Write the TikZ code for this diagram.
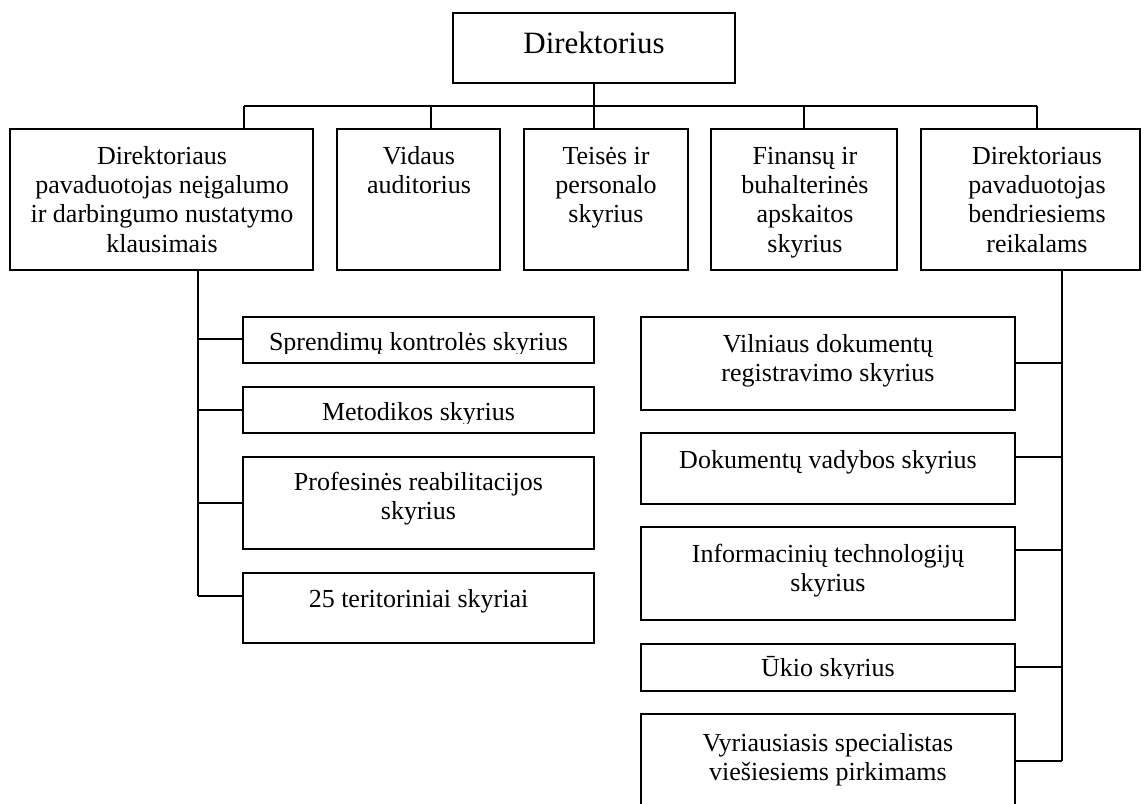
\documentclass[tikz,border=0pt]{standalone}
\usepackage{fontspec}
\setmainfont{Liberation Serif}
\usetikzlibrary{fit}
\tikzset{
  box/.style={draw, line width=1.3pt, inner sep=0pt},
  wire/.style={line width=1.3pt},
  txt/.style={inner sep=0pt, anchor=base, font=\fontsize{19.5pt}{22pt}\selectfont},
  toptxt/.style={inner sep=0pt, anchor=base, font=\fontsize{23.25pt}{26pt}\selectfont}
}
\newcommand\ctext[2]{\parbox[t]{#1}{\centering #2}}
\begin{document}
\begin{tikzpicture}[x=0.75pt,y=-0.75pt]
\useasboundingbox (0,0) rectangle (1144,803);
% top
\node[box, fit={(453,13) (735,83)}] (T) {};
\node[toptxt] (Tt) at (594,53) {Direktorius};
% row
\node[box, fit={(10,129) (313,270)}] (R1) {};
\node[box, fit={(337,129) (500,270)}] (R2) {};
\node[box, fit={(524,129) (688,270)}] (R3) {};
\node[box, fit={(711,129) (897,270)}] (R4) {};
\node[box, fit={(921,129) (1140,270)}] (R5) {};
\node[txt] (R1t) at (162,164) {\ctext{220pt}{Direktoriaus\\pavaduotojas neįgalumo\\ir darbingumo nustatymo\\klausimais}};
\node[txt] (R2t) at (419,164) {\ctext{120pt}{Vidaus\\auditorius}};
\node[txt] (R3t) at (606,164) {\ctext{120pt}{Teisės ir\\personalo\\skyrius}};
\node[txt] (R4t) at (805,164) {\ctext{135pt}{Finansų ir\\buhalterinės\\apskaitos\\skyrius}};
\node[txt] (R5t) at (1037,164) {\ctext{160pt}{Direktoriaus\\pavaduotojas\\bendriesiems\\reikalams}};
% connectors top
\coordinate (hl) at (244,106);
\coordinate (s2) at (431,106);
\coordinate (s3) at (594,106);
\coordinate (s4) at (804,106);
\coordinate (hr) at (1037,106);
\draw[wire] (hl) -- (hr);
\draw[wire] (s3 |- T.south) -- (s3 |- R3.north);
\draw[wire] (hl) -- (hl |- R1.north);
\draw[wire] (s2) -- (s2 |- R2.north);
\draw[wire] (s4) -- (s4 |- R4.north);
\draw[wire] (hr) -- (hr |- R5.north);
% left column
\node[box, fit={(243,317) (594,363)}] (L1) {};
\node[box, fit={(243,387) (594,433)}] (L2) {};
\node[box, fit={(243,457) (594,549)}] (L3) {};
\node[box, fit={(243,573) (594,643)}] (L4) {};
\begin{scope}
\clip (243,317) rectangle (594,353.5);
\node[txt] (L1t) at (418.5,350) {Sprendimų kontrolės skyrius};
\end{scope}
\begin{scope}
\clip (243,387) rectangle (594,423.5);
\node[txt] (L2t) at (418.5,420) {Metodikos skyrius};
\end{scope}
\node[txt] (L3t) at (418.5,490) {\ctext{260pt}{Profesinės reabilitacijos\\skyrius}};
\node[txt] (L4t) at (418.5,607) {25 teritoriniai skyriai};
\coordinate (ls0) at (198,270);
\coordinate (ls1) at (198,339);
\coordinate (ls2) at (198,410);
\coordinate (ls3) at (198,503);
\coordinate (ls4) at (198,596);
\draw[wire] (ls0) -- (ls4);
\draw[wire] (ls1) -- (ls1 -| L1.west);
\draw[wire] (ls2) -- (ls2 -| L2.west);
\draw[wire] (ls3) -- (ls3 -| L3.west);
\draw[wire] (ls4) -- (ls4 -| L4.west);
% right column
\node[box, fit={(641,317) (1015,410)}] (Q1) {};
\node[box, fit={(641,433) (1015,504)}] (Q2) {};
\node[box, fit={(641,527) (1015,620)}] (Q3) {};
\node[box, fit={(641,644) (1015,691)}] (Q4) {};
\node[box, fit={(641,714) (1015,840)}] (Q5) {};
\node[txt] (Q1t) at (828,352) {\ctext{270pt}{Vilniaus dokumentų\\registravimo skyrius}};
\node[txt] (Q2t) at (828,468) {Dokumentų vadybos skyrius};
\node[txt] (Q3t) at (828,562) {\ctext{270pt}{Informacinių technologijų\\skyrius}};
\begin{scope}
\clip (641,644) rectangle (1015,678.5);
\node[txt] (Q4t) at (828,676) {Ūkio skyrius};
\end{scope}
\node[txt] (Q5t) at (828,751) {\ctext{270pt}{Vyriausiasis specialistas\\viešiesiems pirkimams}};
\coordinate (rs0) at (1062,270);
\coordinate (rs1) at (1062,363);
\coordinate (rs2) at (1062,457);
\coordinate (rs3) at (1062,550);
\coordinate (rs4) at (1062,667);
\coordinate (rs5) at (1062,761);
\draw[wire] (rs0) -- (rs5);
\draw[wire] (rs1) -- (rs1 -| Q1.east);
\draw[wire] (rs2) -- (rs2 -| Q2.east);
\draw[wire] (rs3) -- (rs3 -| Q3.east);
\draw[wire] (rs4) -- (rs4 -| Q4.east);
\draw[wire] (rs5) -- (rs5 -| Q5.east);
\end{tikzpicture}
\end{document}
